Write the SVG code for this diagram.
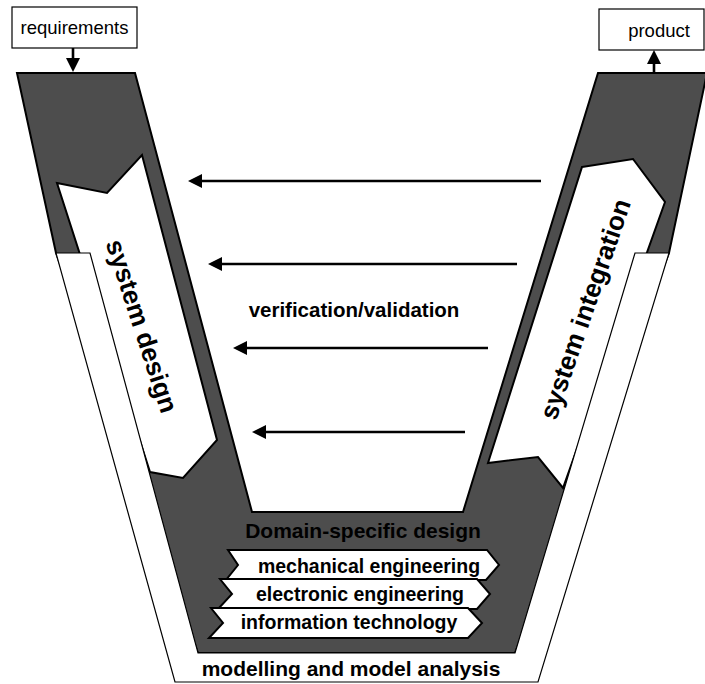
<svg xmlns="http://www.w3.org/2000/svg" width="705" height="684" viewBox="0 0 705 684">
  <style>
    text { font-family: "Liberation Sans", Arial, sans-serif; fill: #000; }
    .lbl { font-size: 18.5px; text-anchor: middle; }
    .bold { font-weight: bold; text-anchor: middle; }
    .box { fill: #fff; stroke: #000; stroke-width: 1.2; }
    .dark { fill: #4d4d4d; stroke: #000; stroke-width: 2; stroke-linejoin: miter; }
    .block { fill: #fff; stroke: #000; stroke-width: 2; stroke-linejoin: miter; }
    .frame { fill: #fff; stroke: #000; stroke-width: 1.2; }
    .chev { fill: #fff; stroke: #000; stroke-width: 2; stroke-linejoin: miter; }
    .conn { stroke: #000; stroke-width: 2.6; fill: none; }
  </style>
  <defs>
    <marker id="head" viewBox="0 0 14 14" markerUnits="userSpaceOnUse" markerWidth="14" markerHeight="14" refX="4" refY="7" orient="auto">
      <path d="M0,0 L14,7 L0,14 z" fill="#000"/>
    </marker>
  </defs>

  <!-- V-shaped process band -->
  <g id="v-band">
    <polygon class="dark" points="17,73 135,73 252,512 463,512 598,73 707,73 669,253 515,653 198,653 56,253"/>
  </g>

  <!-- left arm: system design -->
  <g id="system-design">
    <polygon class="block" points="57,183 107,193 142,155 217,440 183,478 150,472"/>
  </g>

  <!-- right arm: system integration -->
  <g id="system-integration">
    <polygon class="block" points="582,167 633,159 665,202 563,488 538,457 488,463"/>
  </g>

  <!-- verification / validation connectors -->
  <g id="connectors">
    <line class="conn" x1="541" y1="181" x2="198" y2="181" marker-end="url(#head)"/>
    <line class="conn" x1="517" y1="264" x2="218" y2="264" marker-end="url(#head)"/>
    <line class="conn" x1="488" y1="348" x2="243" y2="348" marker-end="url(#head)"/>
    <line class="conn" x1="465" y1="432" x2="262" y2="432" marker-end="url(#head)"/>
    <line class="conn" x1="73" y1="48" x2="73" y2="62" marker-end="url(#head)"/>
    <line class="conn" x1="654" y1="73" x2="654" y2="60" marker-end="url(#head)"/>
  </g>

  <!-- outer frame: modelling and model analysis -->
  <g id="modelling">
    <polygon class="frame" points="56,253 90,253 198,653 515,653 635,253 669,253 538,682 175,682"/>
    <text class="bold" x="351" y="676" font-size="21">modelling and model analysis</text>
  </g>

  <g id="system-design-label">
    <text class="bold" font-size="26" transform="translate(142,326) rotate(72)" x="0" y="9">system design</text>
  </g>
  <g id="system-integration-label">
    <text class="bold" font-size="26" transform="translate(585,309) rotate(-71)" x="0" y="9">system integration</text>
  </g>

  <g id="verification-label">
    <text class="bold" x="354" y="317" font-size="20.5">verification/validation</text>
  </g>

  <!-- domain-specific design -->
  <g id="domain-design">
    <text class="bold" x="363" y="538" font-size="21">Domain-specific design</text>
  </g>
  <g id="mechanical">
    <polygon class="chev" points="228,550 487,550 499,565 486,580 226,580 238,565"/>
    <text class="bold" x="369" y="573" font-size="19.5">mechanical engineering</text>
  </g>
  <g id="electronic">
    <polygon class="chev" points="220,579 477,579 490,594 477,609 218,609 232,594"/>
    <text class="bold" x="360" y="601" font-size="19.5">electronic engineering</text>
  </g>
  <g id="information">
    <polygon class="chev" points="211,608 468,608 482,623 468,638 209,638 223,623"/>
    <text class="bold" x="349" y="629" font-size="19.5">information technology</text>
  </g>

  <!-- input and output -->
  <g id="requirements">
    <rect class="box" x="12" y="7" width="125" height="41"/>
    <text class="lbl" x="74.5" y="34">requirements</text>
  </g>
  <g id="product">
    <rect class="box" x="599" y="9" width="105" height="41"/>
    <text class="lbl" x="659" y="37">product</text>
  </g>
</svg>
